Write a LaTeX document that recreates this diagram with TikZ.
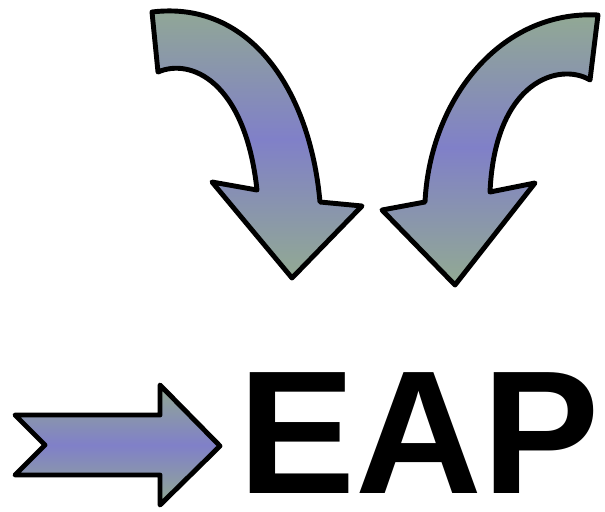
\documentclass[tikz,border=0pt]{standalone}
\usepackage{fontspec}
\setmainfont{Liberation Sans}
\usepackage{tikz}
\usepackage{xcolor}
\definecolor{eapgreen}{RGB}{146,170,146}
\definecolor{eapblue}{RGB}{128,128,200}

\begin{document}
\begin{tikzpicture}[
    x=0.02cm, y=-0.02cm,
    barrow/.style={draw=black, line width=2.8pt, line join=round,
        top color=eapgreen, bottom color=eapgreen, middle color=eapblue}
]
\useasboundingbox (0,0) rectangle (605,511);

% === Curved arrow, left ===
\draw[barrow] (152,12) -- (158,72)
    .. controls (190,58) and (245,80) .. (257,190)
    -- (212,182) -- (292,278) -- (362,206) -- (320,202)
    .. controls (310,90) and (250,0) .. (152,12) -- cycle;

% === Curved arrow, right ===
\draw[barrow] (598,15) -- (590,80)
    .. controls (560,62) and (495,80) .. (490,192)
    -- (535,183) -- (455,285) -- (382,210) -- (425,202)
    .. controls (430,100) and (500,10) .. (598,15) -- cycle;

% === Straight arrow ===
\draw[barrow] (15,415) -- (160,415) -- (160,385) -- (220,446)
    -- (160,505) -- (160,475) -- (15,475) -- (45,445) -- cycle;

\node[anchor=base west, inner sep=0pt, font=\fontsize{100}{100}\selectfont\bfseries]
    (eap) at (238,493) {EAP};

\end{tikzpicture}
\end{document}
